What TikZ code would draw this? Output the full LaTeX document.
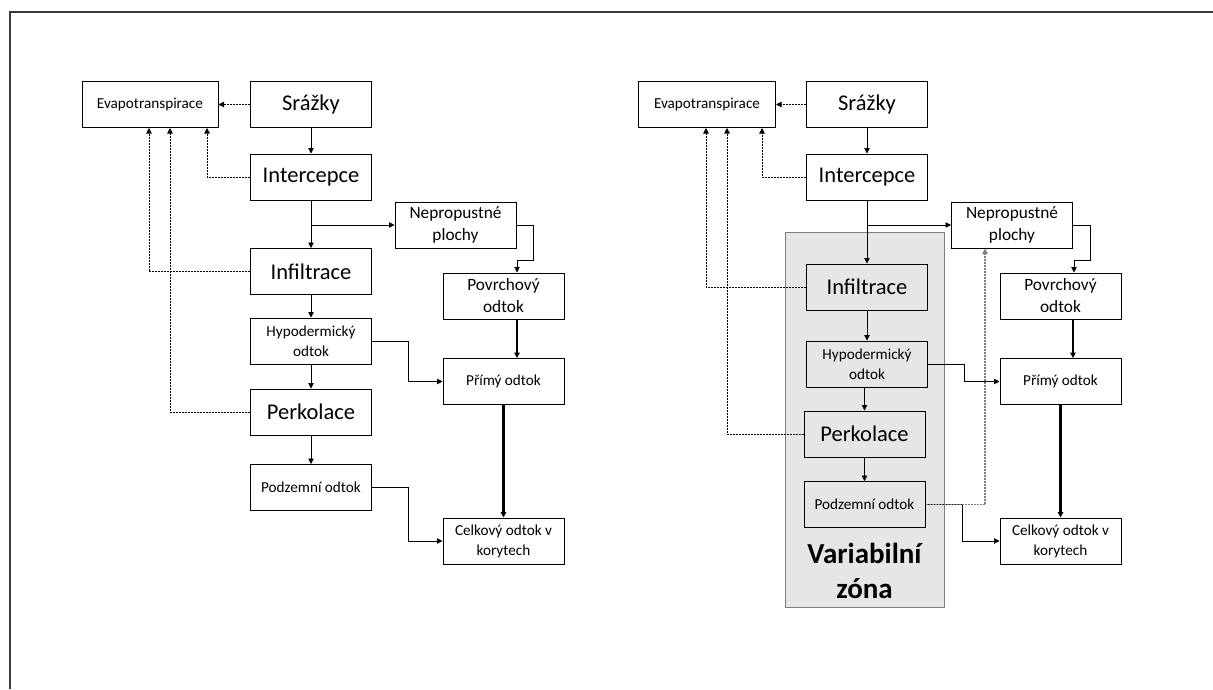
\documentclass[tikz,border=0pt]{standalone}
\usepackage{fontspec}
\setmainfont{Carlito}
\usepackage{tikz}
\usetikzlibrary{arrows.meta, positioning, calc}
\usepackage{xcolor}
\definecolor{zoneGray}{HTML}{E6E6E6}
\definecolor{zoneEdge}{HTML}{7F7F7F}
\definecolor{frameGray}{HTML}{3A3A3A}

\newcommand{\bigtxt}{\fontsize{22.5}{27}\selectfont}
\newcommand{\midtxt}{\fontsize{17.3}{22}\selectfont}
\newcommand{\smltxt}{\fontsize{15.2}{20}\selectfont}

\begin{document}
\begin{tikzpicture}[
        x=1pt, y=-1pt,
        box/.style={draw, line width=1pt, minimum width=121pt,
                    minimum height=46pt, inner sep=0pt, align=center, fill=#1},
        box/.default=white,
        arr/.style={-{Triangle[length=5.5pt,width=5.5pt]}, line width=0.8pt},
        evap/.style={arr, dash pattern=on 2pt off 1pt},
        fat/.style={arr, line width=2.2pt}
      ]
      \useasboundingbox (0,0) rectangle (1213,689);
      \draw[frameGray, line width=1.6pt] (10,689) -- (10,12) -- (1213,12);

      % left scheme
      \node[box, minimum width=136pt, font=\smltxt] (evaL) at (150,104.5) {Evapotranspirace};
      \node[box, font=\bigtxt] (srazL) at (311,104.5)   {Srážky};
      \node[box, font=\bigtxt] (intL)  at (311,177)     {Intercepce};
      \node[box, font=\midtxt] (nepL)  at (455.5,225)   {Nepropustné\\plochy};
      \node[box, font=\bigtxt] (infL)  at (311,271.5)   {Infiltrace};
      \node[box, font=\midtxt] (povL)  at (503.5,296)   {Povrchový\\odtok};
      \node[box, font=\smltxt] (hypL)  at (311,341)     {Hypodermický\\odtok};
      \node[box, font=\smltxt] (primL) at (503.5,381.5) {Přímý odtok};
      \node[box, font=\bigtxt] (perL)  at (311,412)     {Perkolace};
      \node[box, font=\smltxt] (podL)  at (311,487.5)   {Podzemní odtok};
      \node[box, font=\smltxt] (celL)  at (503.5,541)   {Celkový odtok v\\korytech};

      \draw[evap] (srazL) -- (evaL);
      \draw[evap] (intL.west) -| ([xshift=57pt]evaL.south);
      \draw[evap] (infL.west) -| ([xshift=-1pt]evaL.south);
      \draw[evap] (perL.west) -| ([xshift=20pt]evaL.south);
      \draw[arr] (srazL) -- (intL);
      \draw[arr] (intL) -- (infL);
      \draw[arr] (intL.south |- nepL.west) -- (nepL.west);
      \draw[arr] (nepL.east) -| ([xshift=30pt,yshift=12pt]povL.north)
        -| ([xshift=13.5pt]povL.north);
      \draw[arr] (infL) -- (hypL);
      \draw[arr] (hypL) -- (perL);
      \draw[arr] (perL) -- (podL);
      \draw[arr] (hypL.east) -- ++(36,0) |- (primL.west);
      \draw[arr] (podL.east) -- ++(36,0) |- (celL.west);
      \draw[fat] ([xshift=13.5pt]povL.south) -- ([xshift=13.5pt]primL.north);
      \draw[fat] (primL) -- (celL);

      % right scheme
      \node[draw=zoneEdge, line width=1pt, fill=zoneGray, minimum width=159pt,
            minimum height=375pt, inner sep=0pt] (zone) at (864.5,419.5) {};
      \node[font=\fontsize{29}{35}\selectfont\bfseries, align=center] (zoneLbl)
        at (864.5,571) {Variabilní\\zóna};

      \node[box, minimum width=137pt, font=\smltxt] (evaR) at (707,104.5) {Evapotranspirace};
      \node[box, font=\bigtxt] (srazR) at (867,104.5)    {Srážky};
      \node[box, font=\bigtxt] (intR)  at (867,177)      {Intercepce};
      \node[box, font=\midtxt] (nepR)  at (1012,225)     {Nepropustné\\plochy};
      \node[box=zoneGray, font=\bigtxt] (infR) at (867,287) {Infiltrace};
      \node[box, font=\midtxt] (povR)  at (1060.5,296)   {Povrchový\\odtok};
      \node[box=zoneGray, font=\smltxt] (hypR) at (867,364) {Hypodermický\\odtok};
      \node[box, font=\smltxt] (primR) at (1060.5,381.5) {Přímý odtok};
      \node[box=zoneGray, font=\bigtxt] (perR) at (864.5,434) {Perkolace};
      \node[box=zoneGray, font=\smltxt] (podR) at (864.5,504.5) {Podzemní odtok};
      \node[box, font=\smltxt] (celR)  at (1060.5,541)   {Celkový odtok v\\korytech};

      \draw[evap] (srazR) -- (evaR);
      \draw[evap] (intR.west) -| ([xshift=55pt]evaR.south);
      \draw[evap] (infR.west) -| ([xshift=-1pt]evaR.south);
      \draw[evap] (perR.west) -| ([xshift=20pt]evaR.south);
      \draw[arr] (srazR) -- (intR);
      \draw[arr] (intR) -- (infR);
      \draw[arr] (intR.south |- nepR.west) -- (nepR.west);
      \draw[arr] (nepR.east) -| ([xshift=30pt,yshift=12pt]povR.north)
        -| ([xshift=13.5pt]povR.north);
      \draw[arr] (infR) -- (hypR);
      \draw[arr] (perR.north |- hypR.south) -- (perR.north);
      \draw[arr] (perR) -- (podR);
      \draw[arr] (hypR.east) -- ++(36,0) |- (primR.west);
      \draw[arr] (podR.east) -- ++(37,0) |- (celR.west);
      \draw[evap, zoneEdge, line width=1.2pt] (podR.east) -| ([xshift=-27pt]nepR.south);
      \draw[fat] ([xshift=12.5pt]povR.south) -- ([xshift=12.5pt]primR.north);
      \draw[fat] (primR) -- (celR);
    \end{tikzpicture}
\end{document}
